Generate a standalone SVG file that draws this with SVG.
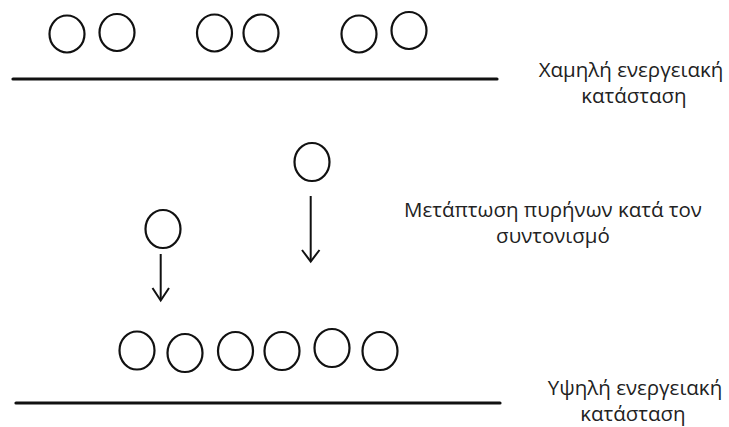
<svg xmlns="http://www.w3.org/2000/svg" width="729" height="427" viewBox="0 0 729 427">
<style>
.n{fill:none;stroke:#111;stroke-width:2.2}
.lvl{stroke:#111;stroke-width:3.2;stroke-linecap:round}
.c{fill:none;stroke:#111;stroke-width:2}
.t{font-family:"Open Sans","Noto Sans",sans-serif;font-size:20.5px;fill:#222;text-anchor:middle}
</style>
<rect width="729" height="427" fill="#fff"/>
<g id="top-nuclei">
<ellipse class="n" cx="67" cy="34" rx="17.5" ry="18.5"/>
<ellipse class="n" cx="117" cy="32.5" rx="17.5" ry="18.5"/>
<ellipse class="n" cx="214.5" cy="33" rx="17.5" ry="18.5"/>
<ellipse class="n" cx="261" cy="33" rx="17.5" ry="18.5"/>
<ellipse class="n" cx="359" cy="34" rx="17.5" ry="18.5"/>
<ellipse class="n" cx="409" cy="30.5" rx="17.5" ry="18.5"/>
</g>
<g id="low-level">
<line class="lvl" x1="13" y1="79" x2="497" y2="79"/>
</g>
<g id="moving-nuclei">
<ellipse class="n" cx="312" cy="162" rx="17.5" ry="19"/>
<ellipse class="n" cx="163" cy="229" rx="17.5" ry="19"/>
</g>
<g id="bottom-nuclei">
<ellipse class="n" cx="137" cy="350.5" rx="17.5" ry="19"/>
<ellipse class="n" cx="185" cy="353" rx="17.5" ry="19"/>
<ellipse class="n" cx="235.5" cy="351" rx="17.5" ry="19"/>
<ellipse class="n" cx="282" cy="351" rx="17.5" ry="19"/>
<ellipse class="n" cx="332" cy="348" rx="17.5" ry="19"/>
<ellipse class="n" cx="380" cy="351" rx="17.5" ry="19"/>
</g>
<g id="high-level">
<line class="lvl" x1="16" y1="403" x2="500" y2="403"/>
</g>
<g id="connectors">
<path class="c" d="M310.7 196 V261"/>
<path class="c" d="M302 250 L310.7 261.5 L319.5 250"/>
<path class="c" d="M160.7 254 V300"/>
<path class="c" d="M152.5 288 L160.7 300.5 L169 288"/>
</g>
<g id="labels">
<text class="t" x="631" y="77">Χαμηλή ενεργειακή</text>
<text class="t" x="634" y="103">κατάσταση</text>
<text class="t" x="553" y="217">Μετάπτωση πυρήνων κατά τον</text>
<text class="t" x="553" y="243">συντονισμό</text>
<text class="t" x="635" y="395">Υψηλή ενεργειακή</text>
<text class="t" x="633" y="421">κατάσταση</text>
</g>
</svg>
